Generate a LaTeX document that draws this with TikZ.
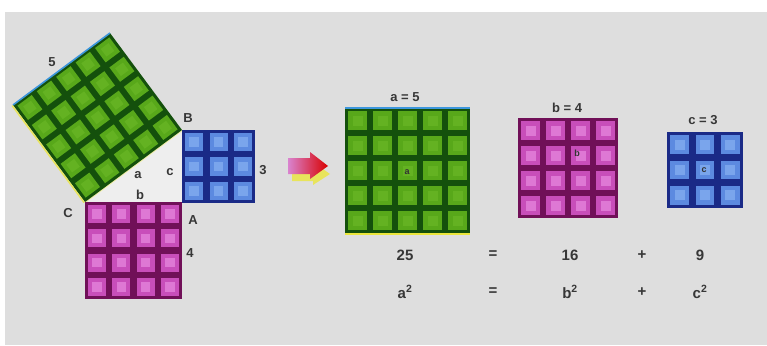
\documentclass[tikz,border=0pt]{standalone}
\usepackage{fontspec}
\setmainfont{Liberation Sans}
\definecolor{bg}{RGB}{222,222,222}
\definecolor{gdark}{RGB}{20,80,12}
\definecolor{gcell}{RGB}{88,168,26}
\definecolor{ginner}{RGB}{100,178,34}
\definecolor{pdark}{RGB}{112,16,88}
\definecolor{pcell}{RGB}{200,78,186}
\definecolor{pinner}{RGB}{222,120,212}
\definecolor{bdark}{RGB}{26,42,135}
\definecolor{bcell}{RGB}{92,138,224}
\definecolor{binner}{RGB}{122,165,236}
\definecolor{edgeblue}{RGB}{60,150,220}
\definecolor{edgeyellow}{RGB}{235,230,60}
\definecolor{txt}{RGB}{55,55,55}
\newcommand\tilegrid[5]{%
  \fill[#3] (0,0) rectangle (#1,#1);
  \pgfmathsetmacro\tgcs{#1/#2}
  \foreach \i in {1,...,#2}{\foreach \j in {1,...,#2}{
    \fill[#4] ({(\i-1)*\tgcs+0.13*\tgcs},{(\j-1)*\tgcs+0.13*\tgcs}) rectangle ({\i*\tgcs-0.13*\tgcs},{\j*\tgcs-0.13*\tgcs});
    \fill[#5] ({(\i-1)*\tgcs+0.3*\tgcs},{(\j-1)*\tgcs+0.3*\tgcs}) rectangle ({\i*\tgcs-0.3*\tgcs},{\j*\tgcs-0.3*\tgcs});
  }}%
}
\tikzset{
  lbl/.style={font=\bfseries\fontsize{13}{15}\selectfont, text=txt, inner sep=0pt},
  ttl/.style={font=\bfseries\fontsize{13}{15}\selectfont, text=txt, inner sep=0pt},
  eqlbl/.style={font=\bfseries\fontsize{15}{17}\selectfont, text=txt, inner sep=0pt},
  cmark/.style={font=\bfseries\fontsize{9}{10}\selectfont, text=black!80, inner sep=0pt}
}
\begin{document}
\begin{tikzpicture}[x=1pt,y=-1pt]
\useasboundingbox (0,0) rectangle (767,345);
\fill[white] (0,0) rectangle (767,345);
\fill[bg] (5,12) rectangle (767,345);

% ---------- left figure ----------
\coordinate (C) at (85,202);
\coordinate (A) at (182,202);
\coordinate (B) at (182,130);
\fill[bg!50!white] (C) -- (A) -- (B) -- cycle;
\draw[edgeyellow!70, line width=2pt, opacity=0.6] (C) -- (B);

% tilted green square on hypotenuse
\begin{scope}[shift={(13,105)}, rotate=36.59]
  \tilegrid{120.8}{5}{gdark}{gcell}{ginner}
  \draw[edgeblue, line width=1.6pt] (0,0) -- (120.8,0);
  \draw[edgeyellow, line width=1.6pt, opacity=0.8] (-1,0) -- (-1,120.8);
\end{scope}

% pink square under CA
\begin{scope}[shift={(85,202)}]
  \tilegrid{97}{4}{pdark}{pcell}{pinner}
\end{scope}
% blue square right of AB
\begin{scope}[shift={(182,130)}]
  \tilegrid{73}{3}{bdark}{bcell}{binner}
\end{scope}

\node[lbl] (l5) at (52,62) {5};
\node[lbl] (lB) at (188,118) {B};
\node[lbl] (lc) at (170,172) {c};
\node[lbl] (l3) at (263,170) {3};
\node[lbl] (la) at (138,175) {a};
\node[lbl] (lb) at (140,195) {b};
\node[lbl] (lC) at (68,213) {C};
\node[lbl] (lA) at (193,220) {A};
\node[lbl] (l4) at (190,253) {4};

% ---------- arrow ----------
\fill[edgeyellow, opacity=0.8] (292,166) -- (313,166) -- (313,162) -- (330,174) -- (313,185) -- (313,181) -- (292,181) -- cycle;
\shade[left color=pcell!70, right color=red!85!black] (288,158) -- (310,158) -- (310,152) -- (328,166) -- (310,179) -- (310,174) -- (288,174) -- cycle;

% ---------- right figure ----------
\begin{scope}[shift={(345,108)}]
  \tilegrid{125}{5}{gdark}{gcell}{ginner}
  \draw[edgeblue, line width=1.6pt] (0,0) -- (125,0);
  \draw[edgeyellow, line width=2pt] (0,126) -- (125,126);
\end{scope}
\begin{scope}[shift={(518,118)}]
  \tilegrid{100}{4}{pdark}{pcell}{pinner}
\end{scope}
\begin{scope}[shift={(667,132)}]
  \tilegrid{76}{3}{bdark}{bcell}{binner}
\end{scope}

\node[cmark] (ma) at (407,172) {a};
\node[cmark] (mb) at (577,153) {b};
\node[cmark] (mc) at (704,170) {c};

\node[ttl] (ta) at (405,97) {a = 5};
\node[ttl] (tb) at (567,108) {b = 4};
\node[ttl] (tc) at (703,120) {c = 3};

\node[eqlbl] (n25) at (405,255) {25};
\node[eqlbl] (eq1) at (493,255) {=};
\node[eqlbl] (n16) at (570,255) {16};
\node[eqlbl] (pl1) at (642,255) {+};
\node[eqlbl] (n9)  at (700,255) {9};
\node[eqlbl] (a2) at (405,292) {a\textsuperscript{2}};
\node[eqlbl] (eq2) at (493,292) {=};
\node[eqlbl] (b2) at (570,292) {b\textsuperscript{2}};
\node[eqlbl] (pl2) at (642,292) {+};
\node[eqlbl] (c2) at (700,292) {c\textsuperscript{2}};
\end{tikzpicture}
\end{document}
